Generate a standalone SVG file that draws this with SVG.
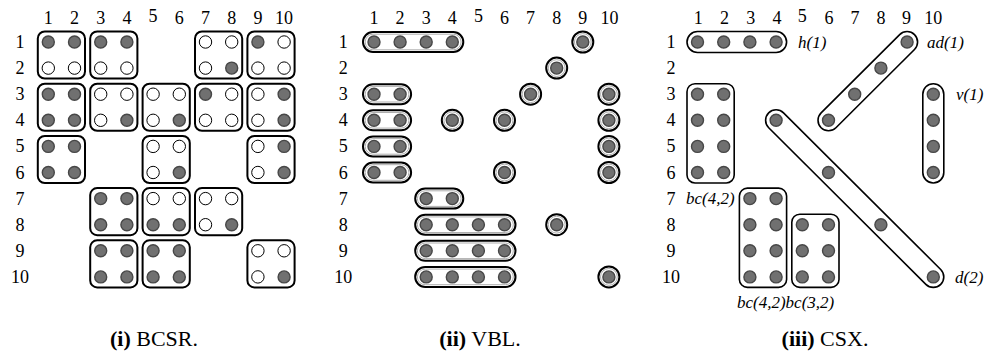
<svg xmlns="http://www.w3.org/2000/svg" xmlns:xlink="http://www.w3.org/1999/xlink" width="988" height="356" viewBox="0 0 988 356">
<style>
.num{font-family:"Liberation Serif",serif;font-size:18px;fill:#000;text-anchor:middle}
.lab{font-family:"Liberation Serif",serif;font-size:17px;font-style:italic;fill:#000}
.cap{font-family:"Liberation Serif",serif;font-size:22px;fill:#000;text-anchor:middle}
.cap .b{font-weight:bold}
.blk{fill:none;stroke:#000;stroke-width:2}
.pill{fill:none;stroke:#000;stroke-width:2}
.pin{fill:none;stroke:#9a9a9a;stroke-width:0.8}
.grp{fill:none;stroke:#000;stroke-width:1.6}
</style>
<defs>
<circle id="f" r="6" fill="#707070" stroke="#474747" stroke-width="1.4"/>
<circle id="e" r="6.2" fill="#fff" stroke="#000" stroke-width="1"/>
<g id="s"><circle r="10.5" fill="#fff" stroke="#000" stroke-width="2"/><circle r="8.4" fill="none" stroke="#9a9a9a" stroke-width="0.8"/><use href="#f"/></g>
</defs>
<rect width="988" height="356" fill="#fff"/>

<!-- Panel (i) BCSR -->
<g id="panel-bcsr">
<g id="bcsr-collabels" class="num">
<text x="48.3" y="24">1</text><text x="74.5" y="24">2</text><text x="100.7" y="24">3</text><text x="126.9" y="24">4</text><text x="153.1" y="22">5</text><text x="179.3" y="24">6</text><text x="205.5" y="24">7</text><text x="231.7" y="24">8</text><text x="257.9" y="24">9</text><text x="284.1" y="24">10</text>
</g>
<g id="bcsr-rowlabels" class="num">
<text x="20" y="48">1</text><text x="20" y="74.1">2</text><text x="20" y="100.2">3</text><text x="20" y="126.3">4</text><text x="20" y="152.4">5</text><text x="20" y="178.5">6</text><text x="20" y="204.6">7</text><text x="20" y="230.7">8</text><text x="20" y="256.8">9</text><text x="20" y="282.9">10</text>
</g>
<!-- block rows 1-2 -->
<g id="b-1-1"><rect class="blk" x="37.8" y="31.5" width="47.2" height="47.1" rx="7"/><use href="#f" x="48.3" y="42"/><use href="#f" x="74.5" y="42"/><use href="#e" x="48.3" y="68.1"/><use href="#e" x="74.5" y="68.1"/></g>
<g id="b-1-3"><rect class="blk" x="90.2" y="31.5" width="47.2" height="47.1" rx="7"/><use href="#f" x="100.7" y="42"/><use href="#f" x="126.9" y="42"/><use href="#e" x="100.7" y="68.1"/><use href="#e" x="126.9" y="68.1"/></g>
<g id="b-1-7"><rect class="blk" x="195" y="31.5" width="47.2" height="47.1" rx="7"/><use href="#e" x="205.5" y="42"/><use href="#e" x="231.7" y="42"/><use href="#e" x="205.5" y="68.1"/><use href="#f" x="231.7" y="68.1"/></g>
<g id="b-1-9"><rect class="blk" x="247.4" y="31.5" width="47.2" height="47.1" rx="7"/><use href="#f" x="257.9" y="42"/><use href="#e" x="284.1" y="42"/><use href="#e" x="257.9" y="68.1"/><use href="#e" x="284.1" y="68.1"/></g>
<!-- block rows 3-4 -->
<g id="b-3-1"><rect class="blk" x="37.8" y="83.7" width="47.2" height="47.1" rx="7"/><use href="#f" x="48.3" y="94.2"/><use href="#f" x="74.5" y="94.2"/><use href="#f" x="48.3" y="120.3"/><use href="#f" x="74.5" y="120.3"/></g>
<g id="b-3-3"><rect class="blk" x="90.2" y="83.7" width="47.2" height="47.1" rx="7"/><use href="#e" x="100.7" y="94.2"/><use href="#e" x="126.9" y="94.2"/><use href="#e" x="100.7" y="120.3"/><use href="#f" x="126.9" y="120.3"/></g>
<g id="b-3-5"><rect class="blk" x="142.6" y="83.7" width="47.2" height="47.1" rx="7"/><use href="#e" x="153.1" y="94.2"/><use href="#e" x="179.3" y="94.2"/><use href="#e" x="153.1" y="120.3"/><use href="#f" x="179.3" y="120.3"/></g>
<g id="b-3-7"><rect class="blk" x="195" y="83.7" width="47.2" height="47.1" rx="7"/><use href="#f" x="205.5" y="94.2"/><use href="#e" x="231.7" y="94.2"/><use href="#e" x="205.5" y="120.3"/><use href="#e" x="231.7" y="120.3"/></g>
<g id="b-3-9"><rect class="blk" x="247.4" y="83.7" width="47.2" height="47.1" rx="7"/><use href="#e" x="257.9" y="94.2"/><use href="#f" x="284.1" y="94.2"/><use href="#e" x="257.9" y="120.3"/><use href="#f" x="284.1" y="120.3"/></g>
<!-- block rows 5-6 -->
<g id="b-5-1"><rect class="blk" x="37.8" y="135.9" width="47.2" height="47.1" rx="7"/><use href="#f" x="48.3" y="146.4"/><use href="#f" x="74.5" y="146.4"/><use href="#f" x="48.3" y="172.5"/><use href="#f" x="74.5" y="172.5"/></g>
<g id="b-5-5"><rect class="blk" x="142.6" y="135.9" width="47.2" height="47.1" rx="7"/><use href="#e" x="153.1" y="146.4"/><use href="#e" x="179.3" y="146.4"/><use href="#e" x="153.1" y="172.5"/><use href="#f" x="179.3" y="172.5"/></g>
<g id="b-5-9"><rect class="blk" x="247.4" y="135.9" width="47.2" height="47.1" rx="7"/><use href="#e" x="257.9" y="146.4"/><use href="#f" x="284.1" y="146.4"/><use href="#e" x="257.9" y="172.5"/><use href="#f" x="284.1" y="172.5"/></g>
<!-- block rows 7-8 -->
<g id="b-7-3"><rect class="blk" x="90.2" y="188.1" width="47.2" height="47.1" rx="7"/><use href="#f" x="100.7" y="198.6"/><use href="#f" x="126.9" y="198.6"/><use href="#f" x="100.7" y="224.7"/><use href="#f" x="126.9" y="224.7"/></g>
<g id="b-7-5"><rect class="blk" x="142.6" y="188.1" width="47.2" height="47.1" rx="7"/><use href="#e" x="153.1" y="198.6"/><use href="#e" x="179.3" y="198.6"/><use href="#f" x="153.1" y="224.7"/><use href="#f" x="179.3" y="224.7"/></g>
<g id="b-7-7"><rect class="blk" x="195" y="188.1" width="47.2" height="47.1" rx="7"/><use href="#e" x="205.5" y="198.6"/><use href="#e" x="231.7" y="198.6"/><use href="#e" x="205.5" y="224.7"/><use href="#f" x="231.7" y="224.7"/></g>
<!-- block rows 9-10 -->
<g id="b-9-3"><rect class="blk" x="90.2" y="240.3" width="47.2" height="47.1" rx="7"/><use href="#f" x="100.7" y="250.8"/><use href="#f" x="126.9" y="250.8"/><use href="#f" x="100.7" y="276.9"/><use href="#f" x="126.9" y="276.9"/></g>
<g id="b-9-5"><rect class="blk" x="142.6" y="240.3" width="47.2" height="47.1" rx="7"/><use href="#f" x="153.1" y="250.8"/><use href="#f" x="179.3" y="250.8"/><use href="#f" x="153.1" y="276.9"/><use href="#f" x="179.3" y="276.9"/></g>
<g id="b-9-9"><rect class="blk" x="247.4" y="240.3" width="47.2" height="47.1" rx="7"/><use href="#e" x="257.9" y="250.8"/><use href="#e" x="284.1" y="250.8"/><use href="#e" x="257.9" y="276.9"/><use href="#f" x="284.1" y="276.9"/></g>
<text id="cap-i" class="cap" x="154" y="346"><tspan class="b">(i)</tspan> BCSR.</text>
</g>

<!-- Panel (ii) VBL -->
<g id="panel-vbl">
<g id="vbl-collabels" class="num">
<text x="374" y="24">1</text><text x="400.1" y="24">2</text><text x="426.2" y="24">3</text><text x="452.3" y="24">4</text><text x="478.4" y="22">5</text><text x="504.5" y="24">6</text><text x="530.6" y="24">7</text><text x="556.7" y="24">8</text><text x="582.8" y="24">9</text><text x="609.5" y="24">10</text>
</g>
<g id="vbl-rowlabels" class="num">
<text x="343.3" y="48">1</text><text x="343.3" y="74.1">2</text><text x="343.3" y="100.2">3</text><text x="343.3" y="126.3">4</text><text x="343.3" y="152.4">5</text><text x="343.3" y="178.5">6</text><text x="343.3" y="204.6">7</text><text x="343.3" y="230.7">8</text><text x="343.3" y="256.8">9</text><text x="343.3" y="282.9">10</text>
</g>
<g id="v-r1"><rect class="pill" x="363" y="32" width="100.3" height="20" rx="10"/><rect class="pin" x="365.2" y="34.2" width="95.9" height="15.6" rx="7.8"/><use href="#f" x="374" y="42"/><use href="#f" x="400.1" y="42"/><use href="#f" x="426.2" y="42"/><use href="#f" x="452.3" y="42"/></g>
<g id="v-r3"><rect class="pill" x="363" y="84.2" width="48.1" height="20" rx="10"/><rect class="pin" x="365.2" y="86.4" width="43.7" height="15.6" rx="7.8"/><use href="#f" x="374" y="94.2"/><use href="#f" x="400.1" y="94.2"/></g>
<g id="v-r4"><rect class="pill" x="363" y="110.3" width="48.1" height="20" rx="10"/><rect class="pin" x="365.2" y="112.5" width="43.7" height="15.6" rx="7.8"/><use href="#f" x="374" y="120.3"/><use href="#f" x="400.1" y="120.3"/></g>
<g id="v-r5"><rect class="pill" x="363" y="136.4" width="48.1" height="20" rx="10"/><rect class="pin" x="365.2" y="138.6" width="43.7" height="15.6" rx="7.8"/><use href="#f" x="374" y="146.4"/><use href="#f" x="400.1" y="146.4"/></g>
<g id="v-r6"><rect class="pill" x="363" y="162.5" width="48.1" height="20" rx="10"/><rect class="pin" x="365.2" y="164.7" width="43.7" height="15.6" rx="7.8"/><use href="#f" x="374" y="172.5"/><use href="#f" x="400.1" y="172.5"/></g>
<g id="v-r7"><rect class="pill" x="415.2" y="188.6" width="48.1" height="20" rx="10"/><rect class="pin" x="417.4" y="190.8" width="43.7" height="15.6" rx="7.8"/><use href="#f" x="426.2" y="198.6"/><use href="#f" x="452.3" y="198.6"/></g>
<g id="v-r8"><rect class="pill" x="415.2" y="214.7" width="100.3" height="20" rx="10"/><rect class="pin" x="417.4" y="216.9" width="95.9" height="15.6" rx="7.8"/><use href="#f" x="426.2" y="224.7"/><use href="#f" x="452.3" y="224.7"/><use href="#f" x="478.4" y="224.7"/><use href="#f" x="504.5" y="224.7"/></g>
<g id="v-r9"><rect class="pill" x="415.2" y="240.8" width="100.3" height="20" rx="10"/><rect class="pin" x="417.4" y="243" width="95.9" height="15.6" rx="7.8"/><use href="#f" x="426.2" y="250.8"/><use href="#f" x="452.3" y="250.8"/><use href="#f" x="478.4" y="250.8"/><use href="#f" x="504.5" y="250.8"/></g>
<g id="v-r10"><rect class="pill" x="415.2" y="266.9" width="100.3" height="20" rx="10"/><rect class="pin" x="417.4" y="269.1" width="95.9" height="15.6" rx="7.8"/><use href="#f" x="426.2" y="276.9"/><use href="#f" x="452.3" y="276.9"/><use href="#f" x="478.4" y="276.9"/><use href="#f" x="504.5" y="276.9"/></g>
<g id="v-singles">
<use href="#s" x="582.8" y="42"/><use href="#s" x="556.7" y="68.1"/><use href="#s" x="530.6" y="94.2"/><use href="#s" x="608.9" y="94.2"/>
<use href="#s" x="452.3" y="120.3"/><use href="#s" x="504.5" y="120.3"/><use href="#s" x="608.9" y="120.3"/><use href="#s" x="608.9" y="146.4"/>
<use href="#s" x="504.5" y="172.5"/><use href="#s" x="608.9" y="172.5"/><use href="#s" x="556.7" y="224.7"/><use href="#s" x="608.9" y="276.9"/>
</g>
<text id="cap-ii" class="cap" x="480" y="346"><tspan class="b">(ii)</tspan> VBL.</text>
</g>

<!-- Panel (iii) CSX -->
<g id="panel-csx">
<g id="csx-collabels" class="num">
<text x="698.3" y="24">1</text><text x="724.5" y="24">2</text><text x="750.7" y="24">3</text><text x="776.9" y="24">4</text><text x="802.3" y="22">5</text><text x="829" y="24">6</text><text x="855" y="24">7</text><text x="880.9" y="24">8</text><text x="906.5" y="24">9</text><text x="933.3" y="24">10</text>
</g>
<g id="csx-rowlabels" class="num">
<text x="671" y="48">1</text><text x="671" y="74.1">2</text><text x="671" y="100.2">3</text><text x="671" y="126.3">4</text><text x="671" y="152.4">5</text><text x="671" y="178.5">6</text><text x="671" y="204.6">7</text><text x="671" y="230.7">8</text><text x="671" y="256.8">9</text><text x="671" y="282.9">10</text>
</g>
<g id="c-h1"><rect class="grp" x="687" y="31.5" width="99.6" height="21" rx="10.5"/><use href="#f" x="697.5" y="42"/><use href="#f" x="723.7" y="42"/><use href="#f" x="749.9" y="42"/><use href="#f" x="776.1" y="42"/><text class="lab" x="798" y="47.5">h(1)</text></g>
<g id="c-ad1"><rect class="grp" x="-65.95" y="-10.5" width="131.9" height="21" rx="10.5" transform="translate(867.8 81.15) rotate(-44.9)"/><use href="#f" x="907.1" y="42"/><use href="#f" x="880.9" y="68.1"/><use href="#f" x="854.7" y="94.2"/><use href="#f" x="828.5" y="120.3"/><text class="lab" x="927" y="47.5">ad(1)</text></g>
<g id="c-v1"><rect class="grp" x="922.8" y="83.7" width="21" height="99.3" rx="10.5"/><use href="#f" x="933.3" y="94.2"/><use href="#f" x="933.3" y="120.3"/><use href="#f" x="933.3" y="146.4"/><use href="#f" x="933.3" y="172.5"/><text class="lab" x="956" y="99.5">v(1)</text></g>
<g id="c-bc1"><rect class="grp" x="687" y="83.7" width="47.2" height="99.3" rx="8"/><use href="#f" x="697.5" y="94.2"/><use href="#f" x="723.7" y="94.2"/><use href="#f" x="697.5" y="120.3"/><use href="#f" x="723.7" y="120.3"/><use href="#f" x="697.5" y="146.4"/><use href="#f" x="723.7" y="146.4"/><use href="#f" x="697.5" y="172.5"/><use href="#f" x="723.7" y="172.5"/><text class="lab" x="686" y="204">bc(4,2)</text></g>
<g id="c-d2"><rect class="grp" x="-121.45" y="-10.5" width="242.9" height="21" rx="10.5" transform="translate(854.7 198.6) rotate(44.9)"/><use href="#f" x="776.1" y="120.3"/><use href="#f" x="828.5" y="172.5"/><use href="#f" x="880.9" y="224.7"/><use href="#f" x="933.3" y="276.9"/><text class="lab" x="955" y="282.5">d(2)</text></g>
<g id="c-bc2"><rect class="grp" x="739.4" y="188.1" width="47.2" height="99.3" rx="8"/><use href="#f" x="749.9" y="198.6"/><use href="#f" x="776.1" y="198.6"/><use href="#f" x="749.9" y="224.7"/><use href="#f" x="776.1" y="224.7"/><use href="#f" x="749.9" y="250.8"/><use href="#f" x="776.1" y="250.8"/><use href="#f" x="749.9" y="276.9"/><use href="#f" x="776.1" y="276.9"/></g>
<g id="c-bc3"><rect class="grp" x="791.8" y="214.2" width="47.2" height="73.2" rx="8"/><use href="#f" x="802.3" y="224.7"/><use href="#f" x="828.5" y="224.7"/><use href="#f" x="802.3" y="250.8"/><use href="#f" x="828.5" y="250.8"/><use href="#f" x="802.3" y="276.9"/><use href="#f" x="828.5" y="276.9"/></g>
<text class="lab" x="737" y="308">bc(4,2)bc(3,2)</text>
<text id="cap-iii" class="cap" x="825" y="346"><tspan class="b">(iii)</tspan> CSX.</text>
</g>
</svg>
